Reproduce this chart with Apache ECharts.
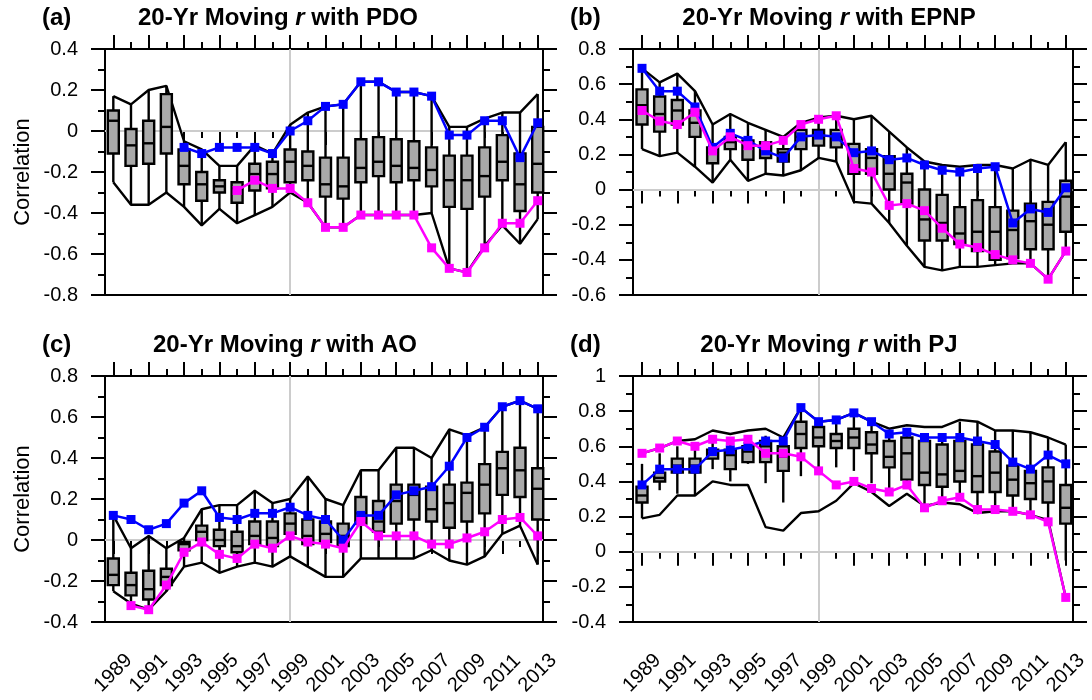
<!DOCTYPE html>
<html lang="en">
<head>
<meta charset="UTF-8">
<title>20-Yr Moving r</title>
<script src="https://cdn.jsdelivr.net/npm/echarts@6/dist/echarts.min.js"></script>
<style>
  html, body { margin: 0; padding: 0; background: #fff; }
  #main { width: 1092px; height: 700px; }
</style>
</head>
<body>
<div id="main"></div>
<script>
// ---- data ----
var years = [1989, 1990, 1991, 1992, 1993, 1994, 1995, 1996, 1997, 1998, 1999, 2000, 2001,
             2002, 2003, 2004, 2005, 2006, 2007, 2008, 2009, 2010, 2011, 2012, 2013];
var labelYears = [1989, 1991, 1993, 1995, 1997, 1999, 2001, 2003, 2005, 2007, 2009, 2011, 2013];
var minorYears = [1990, 1992, 1994, 1996, 1998, 2000, 2002, 2004, 2006, 2008, 2010, 2012];

// (a) PDO
var pdoHi  = [0.17, 0.13, 0.20, 0.22, -0.05, -0.09, -0.17, -0.17, -0.07, -0.11, 0.03, 0.09, 0.12, 0.13, 0.24, 0.24, 0.19, 0.19, 0.17, 0.02, 0.02, 0.06, 0.09, 0.09, 0.18];
var pdoLo  = [-0.25, -0.36, -0.36, -0.30, -0.37, -0.46, -0.38, -0.45, -0.41, -0.37, -0.30, -0.35, -0.47, -0.47, -0.41, -0.41, -0.41, -0.41, -0.40, -0.67, -0.69, -0.56, -0.46, -0.55, -0.43];
var pdoQ3  = [0.10, 0.01, 0.05, 0.18, -0.09, -0.20, -0.24, -0.25, -0.16, -0.15, -0.09, -0.10, -0.13, -0.13, -0.04, -0.03, -0.04, -0.05, -0.08, -0.12, -0.12, -0.08, -0.02, -0.11, 0.02];
var pdoMed = [0.05, -0.07, -0.06, 0.02, -0.17, -0.26, -0.27, -0.28, -0.21, -0.21, -0.15, -0.17, -0.26, -0.27, -0.18, -0.15, -0.17, -0.18, -0.19, -0.24, -0.24, -0.22, -0.15, -0.26, -0.16];
var pdoQ1  = [-0.11, -0.17, -0.16, -0.11, -0.26, -0.34, -0.30, -0.35, -0.29, -0.28, -0.25, -0.24, -0.32, -0.33, -0.25, -0.22, -0.25, -0.24, -0.27, -0.37, -0.38, -0.32, -0.24, -0.39, -0.30];
var pdoBlue = [null, null, null, null, -0.08, -0.11, -0.08, -0.08, -0.08, -0.11, 0.00, 0.05, 0.12, 0.13, 0.24, 0.24, 0.19, 0.19, 0.17, -0.02, -0.02, 0.05, 0.05, -0.13, 0.04];
var pdoPink = [null, null, null, null, null, null, null, -0.29, -0.24, -0.28, -0.28, -0.35, -0.47, -0.47, -0.41, -0.41, -0.41, -0.41, -0.57, -0.67, -0.69, -0.57, -0.45, -0.45, -0.34];

// (b) EPNP
var epnpHi  = [0.69, 0.61, 0.66, 0.56, 0.37, 0.43, 0.38, 0.34, 0.30, 0.38, 0.41, 0.42, 0.40, 0.42, 0.33, 0.24, 0.16, 0.14, 0.13, 0.14, 0.14, 0.12, 0.17, 0.14, 0.27];
var epnpLo  = [0.23, 0.19, 0.21, 0.13, 0.04, 0.17, 0.05, 0.09, 0.08, 0.11, 0.18, 0.16, -0.07, -0.08, -0.19, -0.32, -0.44, -0.46, -0.44, -0.44, -0.43, -0.42, -0.42, -0.51, -0.35];
var epnpQ3  = [0.57, 0.53, 0.51, 0.45, 0.24, 0.30, 0.28, 0.27, 0.23, 0.34, 0.34, 0.34, 0.26, 0.23, 0.19, 0.09, 0.00, -0.03, -0.10, -0.06, -0.10, -0.12, -0.08, -0.07, 0.05];
var epnpMed = [0.48, 0.43, 0.45, 0.38, 0.21, 0.27, 0.24, 0.23, 0.21, 0.30, 0.31, 0.30, 0.20, 0.18, 0.09, 0.04, -0.17, -0.19, -0.25, -0.24, -0.24, -0.23, -0.18, -0.20, -0.04];
var epnpQ1  = [0.37, 0.33, 0.37, 0.30, 0.15, 0.23, 0.17, 0.18, 0.16, 0.23, 0.25, 0.24, 0.09, 0.09, 0.00, -0.08, -0.29, -0.29, -0.31, -0.35, -0.40, -0.39, -0.34, -0.34, -0.24];
var epnpBlue = [0.69, 0.56, 0.56, 0.47, 0.24, 0.32, 0.28, 0.22, 0.18, 0.30, 0.31, 0.30, 0.21, 0.22, 0.17, 0.18, 0.14, 0.11, 0.10, 0.12, 0.13, -0.19, -0.11, -0.13, 0.01];
var epnpPink = [0.45, 0.39, 0.37, 0.44, 0.22, 0.30, 0.25, 0.25, 0.28, 0.37, 0.40, 0.42, 0.12, 0.10, -0.09, -0.08, -0.12, -0.22, -0.31, -0.33, -0.37, -0.40, -0.42, -0.51, -0.35];

// (c) AO
var aoHi  = [0.12, -0.04, 0.02, -0.04, 0.01, 0.15, 0.17, 0.17, 0.24, 0.18, 0.20, 0.31, 0.20, 0.17, 0.34, 0.34, 0.45, 0.45, 0.40, 0.54, 0.51, 0.55, 0.65, 0.68, 0.64];
var aoLo  = [-0.25, -0.31, -0.34, -0.25, -0.13, -0.11, -0.16, -0.13, -0.11, -0.13, -0.08, -0.13, -0.18, -0.18, -0.09, -0.09, -0.09, -0.09, -0.05, -0.10, -0.12, -0.08, 0.03, 0.07, -0.12];
var aoQ3  = [-0.09, -0.16, -0.15, -0.14, -0.01, 0.07, 0.05, 0.04, 0.09, 0.09, 0.13, 0.10, 0.09, 0.08, 0.21, 0.19, 0.27, 0.27, 0.26, 0.27, 0.28, 0.37, 0.43, 0.45, 0.35];
var aoMed = [-0.17, -0.22, -0.24, -0.18, -0.02, 0.04, 0.00, -0.03, 0.02, 0.01, 0.08, 0.02, 0.03, 0.02, 0.13, 0.09, 0.19, 0.22, 0.15, 0.18, 0.23, 0.27, 0.35, 0.34, 0.25];
var aoQ1  = [-0.22, -0.27, -0.29, -0.22, -0.05, 0.00, -0.03, -0.06, -0.02, -0.03, 0.03, -0.02, -0.01, -0.03, 0.08, 0.04, 0.08, 0.10, 0.09, 0.06, 0.09, 0.13, 0.22, 0.21, 0.10];
var aoBlue = [0.12, 0.10, 0.05, 0.08, 0.18, 0.24, 0.11, 0.10, 0.13, 0.13, 0.16, 0.12, 0.10, 0.00, 0.12, 0.12, 0.22, 0.24, 0.26, 0.36, 0.50, 0.55, 0.65, 0.68, 0.64];
var aoPink = [null, -0.32, -0.34, -0.22, -0.06, -0.01, -0.07, -0.09, -0.02, -0.04, 0.02, -0.01, -0.02, -0.04, 0.09, 0.02, 0.02, 0.02, -0.02, -0.02, 0.01, 0.04, 0.10, 0.11, 0.02];

// (d) PJ
var pjHi  = [0.56, 0.59, 0.63, 0.64, 0.69, 0.67, 0.69, 0.70, 0.65, 0.82, 0.74, 0.75, 0.79, 0.74, 0.70, 0.72, 0.71, 0.71, 0.75, 0.74, 0.69, 0.69, 0.68, 0.65, 0.61];
var pjLo  = [0.19, 0.21, 0.32, 0.32, 0.40, 0.38, 0.38, 0.14, 0.12, 0.22, 0.23, 0.29, 0.39, 0.34, 0.26, 0.33, 0.26, 0.28, 0.27, 0.22, 0.23, 0.23, 0.21, 0.18, -0.26];
var pjWhiskHi = [0.50, 0.56, 0.60, 0.60, 0.63, 0.65, 0.64, 0.66, 0.65, 0.82, 0.74, 0.75, 0.79, 0.74, 0.67, 0.68, 0.65, 0.65, 0.74, 0.74, 0.69, 0.69, 0.68, 0.65, 0.61];
var pjWhiskLo = [0.19, 0.35, 0.33, 0.32, 0.47, 0.40, 0.50, 0.39, 0.28, 0.43, 0.48, 0.48, 0.46, 0.39, 0.34, 0.38, 0.25, 0.29, 0.31, 0.24, 0.24, 0.23, 0.21, 0.17, -0.05];
var pjQ3  = [0.37, 0.45, 0.53, 0.53, 0.58, 0.58, 0.60, 0.63, 0.60, 0.74, 0.71, 0.67, 0.70, 0.68, 0.63, 0.65, 0.63, 0.61, 0.63, 0.61, 0.57, 0.49, 0.46, 0.48, 0.38];
var pjMed = [0.32, 0.42, 0.49, 0.49, 0.56, 0.55, 0.57, 0.60, 0.54, 0.67, 0.65, 0.63, 0.65, 0.61, 0.54, 0.56, 0.45, 0.44, 0.46, 0.43, 0.45, 0.41, 0.39, 0.40, 0.25];
var pjQ1  = [0.28, 0.40, 0.45, 0.45, 0.53, 0.47, 0.51, 0.51, 0.46, 0.59, 0.60, 0.59, 0.59, 0.56, 0.48, 0.41, 0.38, 0.37, 0.40, 0.34, 0.34, 0.32, 0.30, 0.28, 0.16];
var pjBlue = [0.38, 0.47, 0.47, 0.47, 0.57, 0.58, 0.60, 0.63, 0.63, 0.82, 0.74, 0.75, 0.79, 0.74, 0.67, 0.68, 0.65, 0.65, 0.65, 0.63, 0.61, 0.51, 0.47, 0.55, 0.50];
var pjPink = [0.56, 0.59, 0.63, 0.60, 0.64, 0.63, 0.64, 0.56, 0.56, 0.54, 0.46, 0.38, 0.40, 0.36, 0.34, 0.38, 0.25, 0.29, 0.31, 0.24, 0.24, 0.23, 0.21, 0.17, -0.26];

// ---- layout ----
var FONT = 'Liberation Sans, Arial, sans-serif';
var LW = 2.4;
var panels = [
    { letter: '(a)', name: 'PDO',  left: 105, top: 49,  width: 438, xMin: 1988.53, xMax: 2013.3,  yMin: -0.8, yMax: 0.4, ylabel: true,  xlabel: false,
      hi: pdoHi, lo: pdoLo, wlo: pdoLo, whi: pdoHi, q1: pdoQ1, med: pdoMed, q3: pdoQ3, blue: pdoBlue, pink: pdoPink },
    { letter: '(b)', name: 'EPNP', left: 633, top: 49,  width: 440, xMin: 1988.49, xMax: 2013.41, yMin: -0.6, yMax: 0.8, ylabel: false, xlabel: false,
      hi: epnpHi, lo: epnpLo, wlo: epnpLo, whi: epnpHi, q1: epnpQ1, med: epnpMed, q3: epnpQ3, blue: epnpBlue, pink: epnpPink },
    { letter: '(c)', name: 'AO',   left: 105, top: 376, width: 438, xMin: 1988.53, xMax: 2013.3,  yMin: -0.4, yMax: 0.8, ylabel: true,  xlabel: true,
      hi: aoHi, lo: aoLo, wlo: aoLo, whi: aoHi, q1: aoQ1, med: aoMed, q3: aoQ3, blue: aoBlue, pink: aoPink },
    { letter: '(d)', name: 'PJ',   left: 633, top: 376, width: 440, xMin: 1988.49, xMax: 2013.41, yMin: -0.4, yMax: 1.0, ylabel: false, xlabel: true,
      hi: pjHi, lo: pjLo, wlo: pjWhiskLo, whi: pjWhiskHi, q1: pjQ1, med: pjMed, q3: pjQ3, blue: pjBlue, pink: pjPink }
];
var titleCenters = [278, 829, 285, 829];

function pairs(arr) {
    var out = [];
    for (var i = 0; i < years.length; i++) {
        if (arr[i] !== null) out.push([years[i], arr[i]]);
    }
    return out;
}

function xAxisFor(g, p, pos, ticks, len, labeled) {
    return {
        type: 'value', gridIndex: g, position: pos, min: p.xMin, max: p.xMax,
        axisLine: { show: false },
        splitLine: { show: false },
        axisTick: { show: true, inside: false, length: len, customValues: ticks,
                    lineStyle: { color: '#000', width: 2 } },
        axisLabel: labeled ? {
            show: true, customValues: labelYears, rotate: 45, align: 'center', verticalAlign: 'middle',
            margin: 51, fontSize: 20, color: '#000', fontFamily: FONT,
            formatter: function (v) { return String(Math.round(v)); }
        } : { show: false }
    };
}

function yAxisFor(g, p, pos, labeled) {
    return {
        type: 'value', gridIndex: g, position: pos, min: p.yMin, max: p.yMax, interval: 0.2,
        axisLine: { show: false },
        splitLine: { show: false },
        axisTick: { show: true, inside: false, length: 14, lineStyle: { color: '#000', width: 2 } },
        minorTick: { show: true, splitNumber: 2, length: 7, lineStyle: { color: '#000', width: 2 } },
        minorSplitLine: { show: false },
        axisLabel: labeled ? { show: true, margin: 27, fontSize: 20, color: '#000', fontFamily: FONT } : { show: false },
        name: (labeled && p.ylabel) ? 'Correlation' : '',
        nameLocation: 'middle', nameGap: 71,
        nameTextStyle: { fontSize: 22, color: '#000', fontFamily: FONT }
    };
}

function renderBox(params, api) {
    var x = api.value(0);
    var lo = api.coord([x, api.value(1)]);
    var b1 = api.coord([x, api.value(2)]);
    var md = api.coord([x, api.value(3)]);
    var b3 = api.coord([x, api.value(4)]);
    var hi = api.coord([x, api.value(5)]);
    var hw = 5.5;
    return {
        type: 'group',
        children: [
            { type: 'line', shape: { x1: lo[0], y1: lo[1], x2: hi[0], y2: hi[1] },
              style: { stroke: '#000', lineWidth: LW } },
            { type: 'rect', shape: { x: b1[0] - hw, y: b3[1], width: hw * 2, height: b1[1] - b3[1] },
              style: { fill: '#a9a9a9', stroke: '#000', lineWidth: LW } },
            { type: 'line', shape: { x1: md[0] - hw, y1: md[1], x2: md[0] + hw, y2: md[1] },
              style: { stroke: '#000', lineWidth: LW } }
        ]
    };
}

var grids = [], xAxes = [], yAxes = [], series = [], titles = [];

panels.forEach(function (p, g) {
    grids.push({ left: p.left, top: p.top, width: p.width, height: 246,
                 show: true, borderColor: '#000', borderWidth: 2, backgroundColor: 'transparent' });

    xAxes.push(xAxisFor(g, p, 'bottom', labelYears, 14, p.xlabel));
    xAxes.push(xAxisFor(g, p, 'bottom', minorYears, 7, false));
    xAxes.push(xAxisFor(g, p, 'top', labelYears, 14, false));
    xAxes.push(xAxisFor(g, p, 'top', minorYears, 7, false));
    yAxes.push(yAxisFor(g, p, 'left', true));
    yAxes.push(yAxisFor(g, p, 'right', false));

    var xi = g * 4, yi = g * 2;
    var boxData = years.map(function (y, i) {
        return [y, p.wlo[i], p.q1[i], p.med[i], p.q3[i], p.whi[i]];
    });

    series.push({
        type: 'line', xAxisIndex: xi, yAxisIndex: yi, data: pairs(p.hi), z: 2,
        showSymbol: false, symbol: 'none', lineStyle: { color: '#000', width: LW },
        markLine: { silent: true, symbol: 'none', z: 1, animation: false, label: { show: false },
                    lineStyle: { color: '#cccccc', width: 2, type: 'solid' },
                    data: [{ xAxis: 1999 }, { yAxis: 0 }] }
    });
    series.push({
        type: 'line', xAxisIndex: xi, yAxisIndex: yi, data: pairs(p.lo), z: 2,
        showSymbol: false, symbol: 'none', lineStyle: { color: '#000', width: LW }
    });
    series.push({
        type: 'custom', xAxisIndex: xi, yAxisIndex: yi, data: boxData, z: 3,
        renderItem: renderBox, encode: { x: 0, y: [1, 2, 3, 4, 5] }
    });
    series.push({
        type: 'line', xAxisIndex: xi, yAxisIndex: yi, data: pairs(p.blue), z: 5,
        symbol: 'rect', symbolSize: 9, itemStyle: { color: '#0000ff' },
        lineStyle: { color: '#0000ff', width: 2.5 }
    });
    series.push({
        type: 'line', xAxisIndex: xi, yAxisIndex: yi, data: pairs(p.pink), z: 6,
        symbol: 'rect', symbolSize: 9, itemStyle: { color: '#ff00ff' },
        lineStyle: { color: '#ff00ff', width: 2.5 }
    });

    var ty = g < 2 ? 18 : 345;
    titles.push({
        text: p.letter, left: p.left - 63, top: ty, padding: 0,
        textAlign: 'left', textVerticalAlign: 'middle',
        textStyle: { fontSize: 24, fontWeight: 'bold', color: '#000', fontFamily: FONT }
    });
    titles.push({
        text: '{n|20-Yr Moving }{i|r}{n| with ' + p.name + '}',
        left: titleCenters[g], top: ty, padding: 0,
        textAlign: 'center', textVerticalAlign: 'middle',
        textStyle: {
            rich: {
                n: { fontSize: 24, fontWeight: 'bold', color: '#000', fontFamily: FONT },
                i: { fontSize: 24, fontWeight: 'bold', fontStyle: 'italic', color: '#000', fontFamily: FONT }
            }
        }
    });
});

var chart = echarts.init(document.getElementById('main'));
chart.setOption({
    animation: false,
    backgroundColor: '#fff',
    title: titles,
    grid: grids,
    xAxis: xAxes,
    yAxis: yAxes,
    series: series
});
</script>
</body>
</html>
